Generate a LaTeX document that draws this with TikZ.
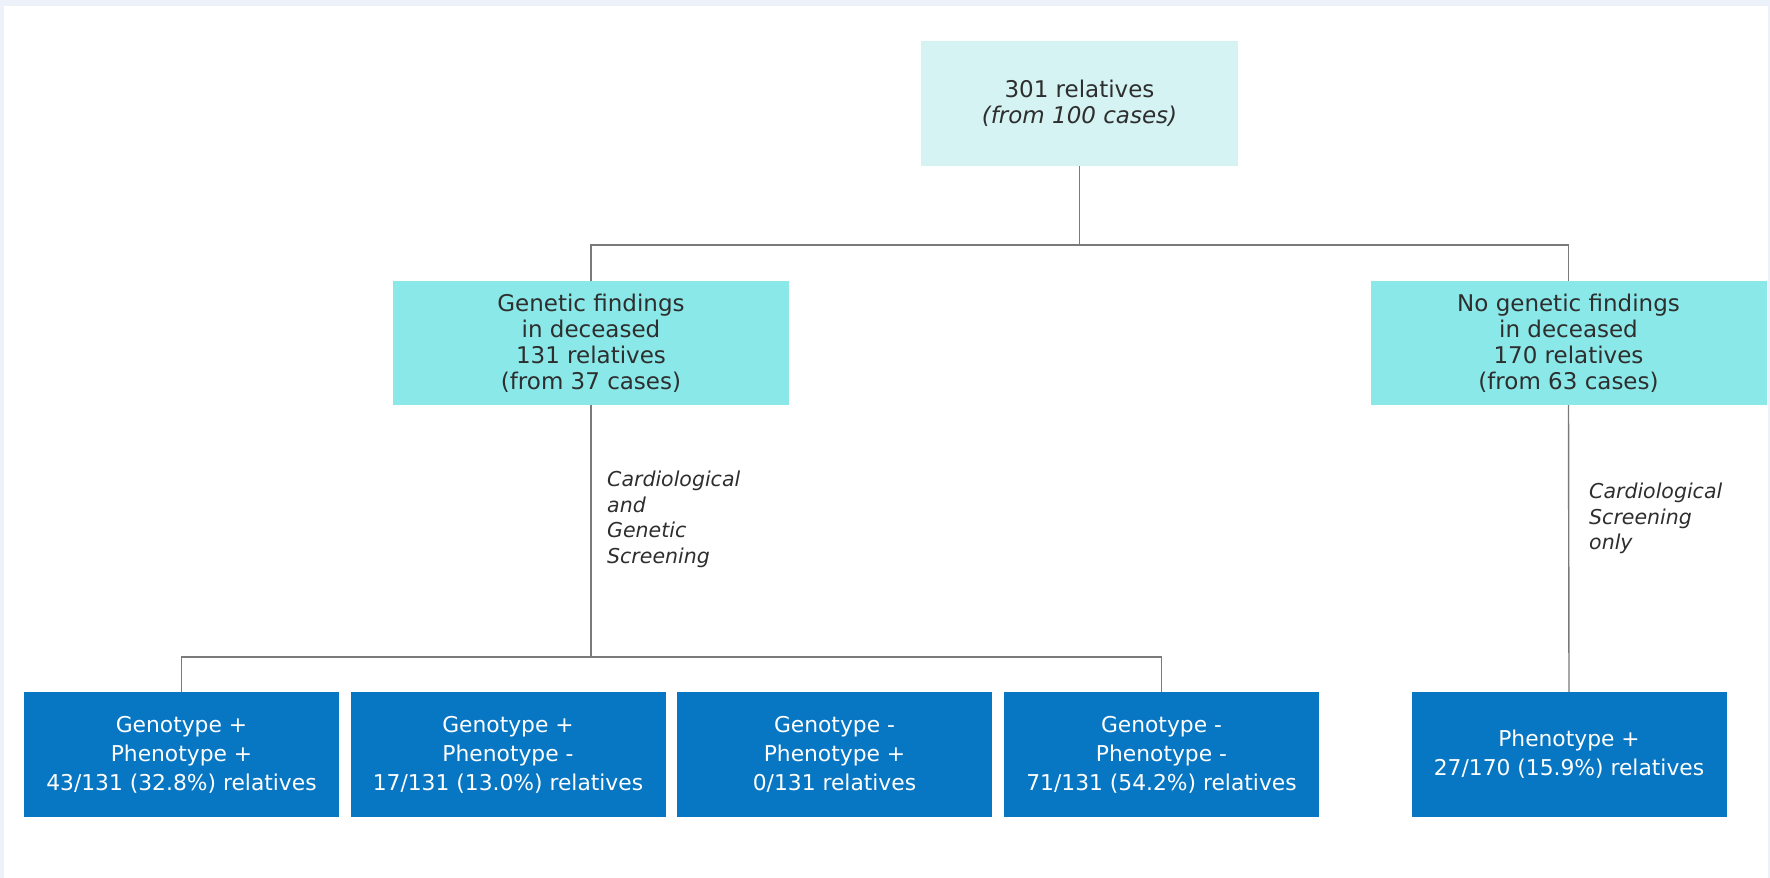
\documentclass[tikz,border=0pt]{standalone}
\usepackage{fontspec}
\setmainfont{DejaVu Sans}
\usepackage{tikz}

\definecolor{topfill}{HTML}{D5F3F3}
\definecolor{midfill}{HTML}{8AE8E8}
\definecolor{lowfill}{HTML}{0776C3}
\definecolor{inktext}{HTML}{2E2E2E}
\definecolor{linkgrey}{HTML}{7A7A7A}
\definecolor{pagebg}{HTML}{EDF1FA}

\begin{document}
\begin{tikzpicture}[x=1pt,y=-1pt,
		topbox/.style={fill=topfill,text=inktext,minimum width=317pt,minimum height=125pt,align=center,font=\fontsize{23}{26}\selectfont,inner sep=0pt},
		midbox/.style={fill=midfill,text=inktext,minimum width=396pt,minimum height=124pt,align=center,font=\fontsize{23}{26}\selectfont,inner sep=0pt},
		lowbox/.style={fill=lowfill,text=white,minimum width=315pt,minimum height=125pt,align=center,font=\fontsize{21.8}{29}\selectfont,inner sep=0pt},
		note/.style={text=inktext,align=left,font=\fontsize{20.5}{25.5}\selectfont\itshape,inner sep=0pt,anchor=north west},
		link/.style={draw=linkgrey,line width=1.4pt}]
		\useasboundingbox (0,0) rectangle (1770,878);
		\fill[pagebg] (0,0) rectangle (1770,878);
		\fill[white] (4,6) rectangle (1768,878);
		% boxes
		\draw (1079.5,103.5) 	node (all) [topbox] {301 relatives\\\textit{(from 100 cases)}};
		\draw (591,343) 	node (gen) [midbox] {Genetic findings\\in deceased\\131 relatives\\(from 37 cases)};
		\draw (1568.5,343) 	node (nogen) [midbox] {No genetic findings\\in deceased\\170 relatives\\(from 63 cases)};
		\draw (181.5,754.5) 	node (gpp) [lowbox] {Genotype +\\Phenotype +\\43/131 (32.8\%) relatives};
		\draw (508,754.5) 	node (gpm) [lowbox] {Genotype +\\Phenotype -\\17/131 (13.0\%) relatives};
		\draw (834.5,754.5) 	node (gmp) [lowbox] {Genotype -\\Phenotype +\\0/131 relatives};
		\draw (1161.5,754.5) 	node (gmm) [lowbox] {Genotype -\\Phenotype -\\71/131 (54.2\%) relatives};
		\draw (1569,754.5) 	node (ponly) [lowbox] {Phenotype +\\27/170 (15.9\%) relatives};
		% junctions
		\coordinate (upbus) at (1079.5,245);
		\coordinate (lowbus) at (591,657);
		% connectors
		\draw[link] (all) -- (upbus);
		\draw[link] (gen.north) |- (upbus) -| (nogen.north);
		\draw[link] (gen.south) -- (lowbus);
		\draw[link] (gpp.north) |- (lowbus) -| (gmm.north);
		\draw[link] (nogen.south) -- (ponly.north);
		% screening labels
		\draw (607,471) 	node (genlab) [note] {Cardiological\\and\\Genetic\\Screening};
		\draw (1589,483) 	node (nogenlab) [note] {Cardiological\\Screening\\only};
	\end{tikzpicture}
\end{document}
